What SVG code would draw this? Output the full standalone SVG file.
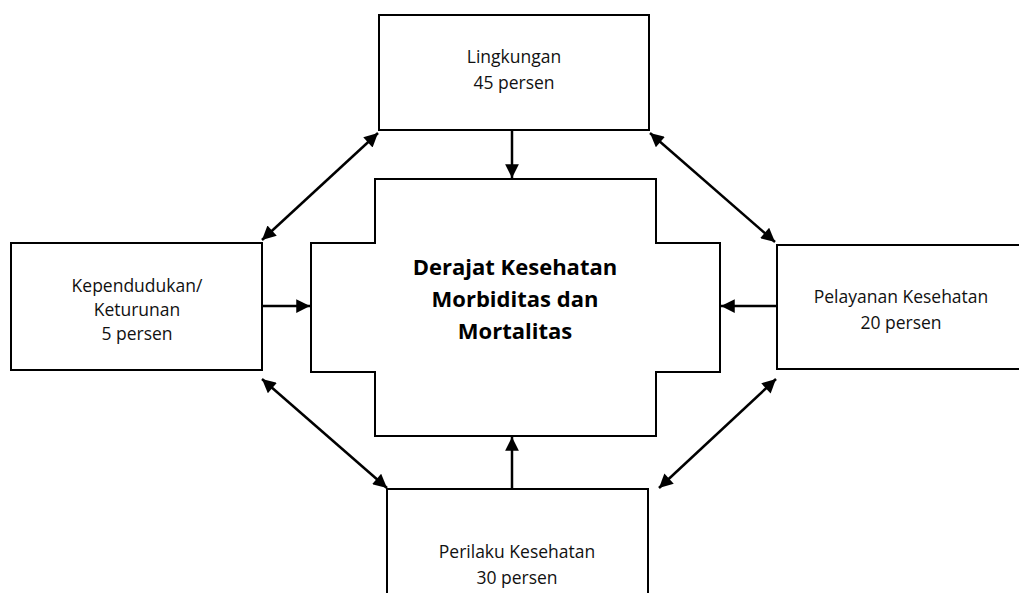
<svg xmlns="http://www.w3.org/2000/svg" width="1019" height="593" viewBox="0 0 1019 593">
<style>
.box{fill:#fff;stroke:#000;stroke-width:2}
.lbl{font-family:"Open Sans","Noto Sans",sans-serif;font-size:17.5px;fill:#111;text-anchor:middle}
.big{font-family:"Open Sans","Noto Sans",sans-serif;font-size:22px;font-weight:bold;fill:#000;text-anchor:middle}
.con{stroke:#000;stroke-width:2.5;fill:none}
</style>
<defs>
<marker id="ah" viewBox="0 0 10 10" refX="10" refY="5" markerWidth="6.5" markerHeight="5.5" markerUnits="strokeWidth" orient="auto-start-reverse">
<path d="M0,0 L10,5 L0,10 Z" fill="#000"/>
</marker>
</defs>
<rect width="1019" height="593" fill="#fff"/>
<g id="center">
<path class="box" d="M375,179 H656 V243 H720 V372 H656 V436 H375 V372 H311 V243 H375 Z"/>
<text class="big" x="515" y="275">Derajat Kesehatan</text>
<text class="big" x="515" y="307">Morbiditas dan</text>
<text class="big" x="515" y="339">Mortalitas</text>
</g>
<g id="lingkungan">
<rect class="box" x="379" y="15" width="270" height="115"/>
<text class="lbl" x="514" y="63">Lingkungan</text>
<text class="lbl" x="514" y="89">45 persen</text>
</g>
<g id="kependudukan">
<rect class="box" x="11" y="243" width="251" height="127"/>
<text class="lbl" x="137" y="292">Kependudukan/</text>
<text class="lbl" x="137" y="316">Keturunan</text>
<text class="lbl" x="137" y="340">5 persen</text>
</g>
<g id="pelayanan">
<rect class="box" x="777" y="245" width="260" height="124"/>
<text class="lbl" x="901" y="303">Pelayanan Kesehatan</text>
<text class="lbl" x="901" y="329">20 persen</text>
</g>
<g id="perilaku">
<rect class="box" x="387" y="489" width="261" height="120"/>
<text class="lbl" x="517" y="558">Perilaku Kesehatan</text>
<text class="lbl" x="517" y="584">30 persen</text>
</g>
<g id="connectors">
<line class="con" x1="512" y1="131" x2="512" y2="178" marker-end="url(#ah)"/>
<line class="con" x1="512" y1="488" x2="512" y2="437" marker-end="url(#ah)"/>
<line class="con" x1="263" y1="306" x2="310" y2="306" marker-end="url(#ah)"/>
<line class="con" x1="776" y1="306" x2="721" y2="306" marker-end="url(#ah)"/>
<line class="con" x1="378" y1="133" x2="262" y2="240" marker-start="url(#ah)" marker-end="url(#ah)"/>
<line class="con" x1="650" y1="133" x2="775" y2="242" marker-start="url(#ah)" marker-end="url(#ah)"/>
<line class="con" x1="262" y1="379" x2="387" y2="488" marker-start="url(#ah)" marker-end="url(#ah)"/>
<line class="con" x1="776" y1="379" x2="659" y2="488" marker-start="url(#ah)" marker-end="url(#ah)"/>
</g>
</svg>
